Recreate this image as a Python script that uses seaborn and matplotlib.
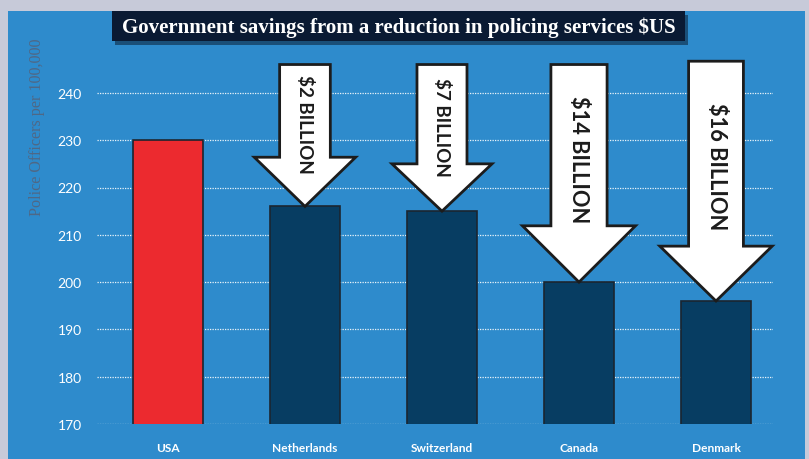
import numpy as np
import pandas as pd
import matplotlib
matplotlib.use('Agg')
import matplotlib.pyplot as plt
import seaborn as sns
from matplotlib.patches import Rectangle, FancyArrow

# data
countries = ['USA', 'Netherlands', 'Switzerland', 'Canada', 'Denmark']
officers = [230, 216, 215, 200, 196]
savings_labels = ['', '$2 BILLION', '$7 BILLION', '$14 BILLION', '$16 BILLION']
yticks = [170, 180, 190, 200, 210, 220, 230, 240]

# arrow styling (size tweaks per arrow)
arrow_top = [0, 246, 246, 246, 246.7]
arrow_shaft = [0, 0.37, 0.365, 0.41, 0.40]
arrow_head_w = [0, 0.74, 0.73, 0.825, 0.82]
arrow_head_len = [0, 10.4, 10.0, 11.9, 11.6]
label_y = [0, 233.5, 233.0, 226.0, 224.6]
label_size = [0, 13.5, 13.5, 15.7, 15.7]

sns.set_style('white')
plt.rcParams['font.family'] = ['Lato', 'DejaVu Sans']

df = pd.DataFrame({'country': countries, 'officers': officers})
bar_colors = ['#ec2a2f'] + ['#073d62'] * 4

fig = plt.figure(figsize=(8.09, 4.60), dpi=100)
fig.patch.set_facecolor('#c7cad9')
# blue panel
fig.patches.append(Rectangle((8 / 809, 0), 797 / 809, 448 / 460, transform=fig.transFigure,
                             facecolor='#2e8bcc', edgecolor='none', zorder=-10))

ax = fig.add_axes([97 / 809, 35 / 460, 676 / 809, 378.4 / 460])
ax.set_facecolor('none')
sns.barplot(data=df, x='country', y='officers', hue='country', palette=bar_colors,
            saturation=1, legend=False, width=0.51, edgecolor='#1b2530', linewidth=1.2,
            ax=ax, zorder=3)

ax.set_ylim(170, 250)
ax.set_xlim(-0.518, 4.416)
ax.set_yticks(yticks)
ax.yaxis.grid(True, color='white', linestyle=(0, (1, 1)), linewidth=0.9, alpha=0.9, zorder=1)
ax.set_axisbelow(True)
for s in ax.spines.values():
    s.set_visible(False)
ax.tick_params(axis='y', length=0, pad=11, labelsize=10, labelcolor='white')
ax.tick_params(axis='x', length=0, pad=13, labelsize=8.6, labelcolor='white')
for t in ax.get_xticklabels():
    t.set_fontweight('bold')
ax.set_xlabel('')
ax.set_ylabel('')

# arrows showing savings
for i in range(1, len(countries)):
    arr = FancyArrow(i, arrow_top[i], 0, officers[i] - arrow_top[i],
                     width=arrow_shaft[i], head_width=arrow_head_w[i],
                     head_length=arrow_head_len[i], length_includes_head=True,
                     facecolor='white', edgecolor='#1c1c1c', linewidth=2, zorder=5,
                     clip_on=False)
    ax.add_patch(arr)
    ax.text(i, label_y[i], savings_labels[i], rotation=-90, ha='center', va='center',
            fontsize=label_size[i], fontweight='bold', color='#1c1c1c', zorder=6)

fig.text(37 / 809, 1 - 127.5 / 460, 'Police Officers per 100,000', rotation=90,
         ha='center', va='center', fontsize=11.6, color='#4f6886',
         family=['Liberation Serif', 'DejaVu Serif'])

# title box with shadow
fig.patches.append(Rectangle((115 / 809, 1 - 46 / 460), 573 / 809, 30 / 460,
                             transform=fig.transFigure, facecolor='#0d2740',
                             edgecolor='none', alpha=0.6, zorder=5))
fig.patches.append(Rectangle((112 / 809, 1 - 42 / 460), 573 / 809, 30 / 460,
                             transform=fig.transFigure, facecolor='#0a1a33',
                             edgecolor='none', zorder=6))
fig.text(398.5 / 809, 1 - 27.5 / 460,
         'Government savings from a reduction in policing services $US',
         ha='center', va='center', fontsize=15, fontweight='bold', color='white',
         family=['Liberation Serif', 'DejaVu Serif'], zorder=7)

fig.savefig('out.png', dpi=100, facecolor=fig.get_facecolor())
